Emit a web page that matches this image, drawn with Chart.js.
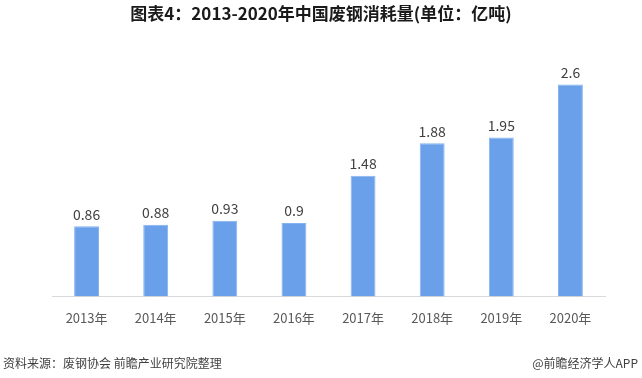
<!DOCTYPE html>
<html>
<head>
<meta charset="utf-8">
<script src="https://cdn.jsdelivr.net/npm/chart.js@4"></script>
<style>
  html, body { margin: 0; padding: 0; background: #fff; }
  #wrap { width: 642px; height: 378px; position: relative; }
</style>
</head>
<body>
<div id="wrap"><canvas id="graph" width="642" height="378"></canvas></div>
<script>
// données
const years = ['2013年', '2014年', '2015年', '2016年', '2017年', '2018年', '2019年', '2020年'];
const consommation = [0.86, 0.88, 0.93, 0.9, 1.48, 1.88, 1.95, 2.6];
const titre = '图表4：2013-2020年中国废钢消耗量(单位：亿吨)';
const source = '资料来源：废钢协会 前瞻产业研究院整理';
const signature = '@前瞻经济学人APP';

const police = '"Noto Sans CJK SC", "Noto Sans", sans-serif';

// titre, valeurs au-dessus des barres et pied de page
const textesPlugin = {
    id: 'textes',
    afterDatasetsDraw(chart) {
        const ctx = chart.ctx;
        ctx.save();
        // valeurs
        const meta = chart.getDatasetMeta(0);
        ctx.fillStyle = '#404040';
        ctx.font = '14px ' + police;
        ctx.textAlign = 'center';
        ctx.textBaseline = 'bottom';
        meta.data.forEach((bar, i) => {
            ctx.fillText(String(consommation[i]), bar.x, bar.y - 5);
        });
        // titre
        ctx.fillStyle = '#1a1a1a';
        ctx.font = 'bold 17px ' + police;
        ctx.textBaseline = 'middle';
        ctx.fillText(titre, chart.width / 2, 14);
        // pied de page
        ctx.fillStyle = '#404040';
        ctx.font = '12px ' + police;
        ctx.textAlign = 'left';
        ctx.fillText(source, 3, 363);
        ctx.textAlign = 'right';
        ctx.fillText(signature, 638, 363);
        ctx.restore();
    }
};

const ctx = document.getElementById('graph').getContext('2d');
new Chart(ctx, {
    type: 'bar',
    data: {
        labels: years,
        datasets: [{
            data: consommation,
            backgroundColor: '#6aa0ea',
            borderColor: '#86b3f0',
            borderWidth: 1,
            barPercentage: 0.36,
            categoryPercentage: 1
        }]
    },
    options: {
        responsive: false,
        animation: false,
        layout: { padding: { top: 52, left: 52, right: 37, bottom: 38 } },
        plugins: {
            legend: { display: false },
            title: { display: false },
            tooltip: { enabled: false }
        },
        scales: {
            x: {
                grid: { display: false, drawTicks: false },
                border: { display: true, color: '#d9d9d9', width: 1 },
                ticks: {
                    color: '#595959',
                    padding: 14,
                    font: { size: 13, family: police }
                }
            },
            y: {
                display: false,
                min: 0,
                max: 3
            }
        }
    },
    plugins: [textesPlugin]
});
</script>
</body>
</html>
